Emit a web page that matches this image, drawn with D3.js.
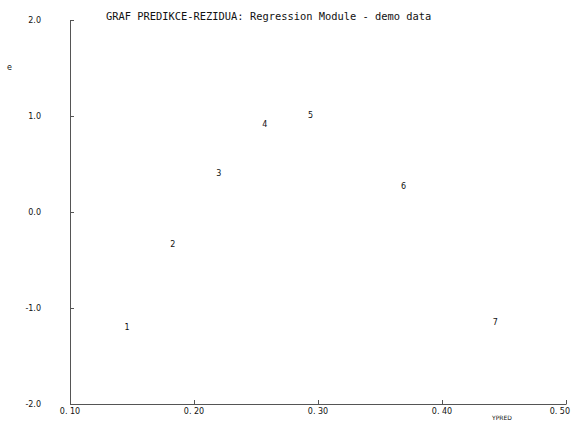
<!DOCTYPE html>
<html>
<head>
<meta charset="utf-8">
<script src="https://cdn.jsdelivr.net/npm/d3@7"></script>
<style>
  html, body { margin: 0; padding: 0; background: #fff; overflow: hidden; }
  svg { display: block; }
</style>
</head>
<body>
<script>
// Residuals vs. predicted values, each observation drawn as its index number
const obsLabels = ["1", "2", "3", "4", "5", "6", "7"];
const predicted = [0.146, 0.183, 0.220, 0.257, 0.294, 0.369, 0.443];
const residuals = [-1.20, -0.34, 0.40, 0.91, 1.01, 0.27, -1.15];
const xTicks = [0.10, 0.20, 0.30, 0.40, 0.50];
const yTicks = [-2.0, -1.0, 0.0, 1.0, 2.0];
const title = "GRAF PREDIKCE-REZIDUA: Regression Module - demo data";

const W = 571, H = 421;
const svg = d3.select("body").append("svg").attr("width", W).attr("height", H);

const x = d3.scaleLinear().domain([0.10, 0.50]).range([70, 566]);
const y = d3.scaleLinear().domain([-2.0, 2.0]).range([404, 20]);

const axisColor = "#555";
const tickFont = "'DejaVu Sans', sans-serif";

// y axis: line with short inward ticks, labels on the far left
const yAxis = svg.append("g").attr("transform", `translate(${x(0.10)},0)`)
  .call(d3.axisRight(y).tickValues(yTicks).tickSize(4).tickSizeOuter(0).tickFormat(() => ""));
yAxis.select(".domain").attr("stroke", axisColor);
yAxis.selectAll(".tick line").attr("stroke", axisColor);

svg.append("g").selectAll("text").data(yTicks).join("text")
  .attr("x", 41).attr("y", d => y(d)).attr("dy", "0.35em")
  .attr("text-anchor", "end")
  .attr("font-family", tickFont).attr("font-size", 8)
  .attr("fill", "#111")
  .text(d => d3.format(".1f")(d).replace("−", "-"));

// x axis: line with short upward ticks, labels below
const xAxis = svg.append("g").attr("transform", `translate(0,${y(-2.0)})`)
  .call(d3.axisTop(x).tickValues(xTicks).tickSize(4).tickSizeOuter(0).tickFormat(() => ""));
xAxis.select(".domain").attr("stroke", axisColor);
xAxis.selectAll(".tick line").attr("stroke", axisColor);

svg.append("g").selectAll("text").data(xTicks).join("text")
  .attr("x", (d, i) => i === xTicks.length - 1 ? 570 : x(d))
  .attr("y", 414)
  .attr("text-anchor", (d, i) => i === xTicks.length - 1 ? "end" : "middle")
  .attr("font-family", tickFont).attr("font-size", 8)
  .attr("fill", "#111")
  .text(d => d3.format(".2f")(d).replace(".", ". "));

// axis names
svg.append("text").attr("x", 7).attr("y", 70)
  .attr("font-family", tickFont).attr("font-size", 8).attr("fill", "#111").text("e");
svg.append("text").attr("x", 492).attr("y", 420)
  .attr("font-family", tickFont).attr("font-size", 6).attr("fill", "#111").text("YPRED");

// title
svg.append("text").attr("x", 106).attr("y", 20)
  .attr("font-family", "'DejaVu Sans Mono', monospace").attr("font-size", 10.4)
  .attr("fill", "#111").text(title);

// observation numbers at their (predicted, residual) positions
svg.append("g").selectAll("text").data(obsLabels).join("text")
  .attr("x", (d, i) => x(predicted[i]))
  .attr("y", (d, i) => y(residuals[i]))
  .attr("dy", "0.35em")
  .attr("text-anchor", "middle")
  .attr("font-family", tickFont).attr("font-size", 8)
  .attr("fill", "#111")
  .text(d => d);
</script>
</body>
</html>
